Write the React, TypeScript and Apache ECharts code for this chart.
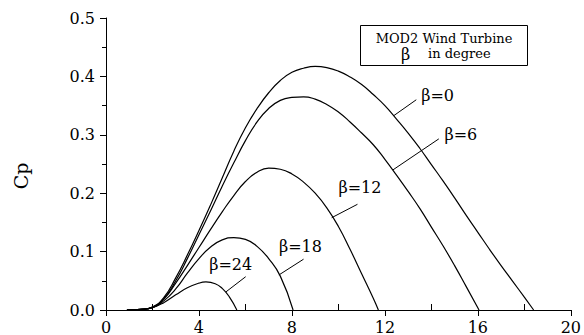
import React, { useEffect, useRef } from "react";
import * as echarts from "echarts";

// Power coefficient Cp against tip speed ratio for several pitch angles (β in degrees)
const beta0: [number, number][] = [
  [0.9, 0], [1.5, 0.001], [2.0, 0.005], [2.5, 0.022], [3.0, 0.055], [3.5, 0.094],
  [4.0, 0.136], [4.5, 0.180], [5.0, 0.226], [5.5, 0.272], [6.0, 0.312], [6.5, 0.345],
  [7.0, 0.372], [7.5, 0.393], [8.0, 0.407], [8.5, 0.414], [9.0, 0.417], [9.5, 0.415],
  [10.0, 0.409], [10.5, 0.399], [11.0, 0.386], [11.5, 0.369], [12.0, 0.350], [12.5, 0.327],
  [13.0, 0.303], [13.5, 0.277], [14.0, 0.249], [14.5, 0.221], [15.0, 0.192], [15.5, 0.162],
  [16.0, 0.133], [16.5, 0.104], [17.0, 0.076], [17.5, 0.049], [18.0, 0.022], [18.4, 0],
];
const beta6: [number, number][] = [
  [0.9, 0], [1.5, 0.001], [2.0, 0.005], [2.5, 0.020], [3.0, 0.050], [3.5, 0.088],
  [4.0, 0.129], [4.5, 0.170], [5.0, 0.212], [5.5, 0.252], [6.0, 0.290], [6.5, 0.322],
  [7.0, 0.345], [7.5, 0.359], [8.0, 0.364], [8.5, 0.365], [9.0, 0.361], [9.5, 0.352],
  [10.0, 0.339], [10.5, 0.322], [11.0, 0.303], [11.5, 0.283], [12.0, 0.258], [12.5, 0.231],
  [13.0, 0.203], [13.5, 0.174], [14.0, 0.142], [14.5, 0.110], [15.0, 0.076], [15.5, 0.040],
  [16.05, 0],
];
const beta12: [number, number][] = [
  [0.9, 0], [1.5, 0.001], [2.0, 0.004], [2.5, 0.019], [3.0, 0.046], [3.5, 0.076],
  [4.0, 0.107], [4.5, 0.138], [5.0, 0.168], [5.5, 0.196], [6.0, 0.220], [6.5, 0.236],
  [7.0, 0.243], [7.5, 0.241], [8.0, 0.233], [8.5, 0.219], [9.0, 0.200], [9.5, 0.175],
  [10.0, 0.143], [10.5, 0.104], [11.0, 0.062], [11.5, 0.020], [11.72, 0],
];
const beta18: [number, number][] = [
  [0.9, 0], [1.5, 0.001], [2.0, 0.004], [2.5, 0.016], [3.0, 0.036], [3.5, 0.063],
  [4.0, 0.088], [4.5, 0.108], [5.0, 0.120], [5.5, 0.124], [6.0, 0.121], [6.5, 0.109],
  [7.0, 0.088], [7.5, 0.058], [8.05, 0],
];
const beta24: [number, number][] = [
  [0.9, 0], [1.5, 0.001], [2.0, 0.004], [2.5, 0.013], [3.0, 0.026], [3.5, 0.038],
  [4.0, 0.046], [4.3, 0.048], [4.7, 0.045], [5.0, 0.037], [5.3, 0.023], [5.63, 0],
];

const curveNames = ["β=0", "β=6", "β=12", "β=18", "β=24"];
const curveData = [beta0, beta6, beta12, beta18, beta24];

// leader line from each curve to its label, and the label anchor (data units)
const leaderFrom: [number, number][] = [[12.39, 0.333], [12.35, 0.240], [9.71, 0.158], [7.44, 0.060], [5.16, 0.031]];
const leaderTo: [number, number][] = [[13.35, 0.360], [14.32, 0.293], [10.82, 0.181], [8.50, 0.087], [6.01, 0.057]];
const labelAt: [number, number][] = [[13.56, 0.368], [14.56, 0.300], [10.0, 0.2095], [7.44, 0.109], [4.44, 0.078]];

const xMinorTicks = [2, 6, 10, 14, 18];

const FONT = "DejaVu Serif";

export default function App() {
  const ref = useRef<HTMLDivElement>(null);

  useEffect(() => {
    if (!ref.current) return;
    const chart = echarts.init(ref.current, undefined, { renderer: "svg" });

    const series = curveData.map((data, i) => ({
      type: "line",
      name: curveNames[i],
      data,
      smooth: 0.5,
      showSymbol: false,
      lineStyle: { color: "#000", width: 1.2 },
      markLine: {
        silent: true,
        symbol: ["none", "none"],
        label: { show: false },
        lineStyle: { color: "#000", width: 1, type: "solid" },
        data: [[{ coord: leaderFrom[i] }, { coord: leaderTo[i] }]],
      },
      markPoint: {
        silent: true,
        symbol: "circle",
        symbolSize: 0,
        label: {
          show: true,
          position: "right",
          distance: 0,
          formatter: curveNames[i],
          fontFamily: FONT,
          fontSize: 16,
          color: "#000",
        },
        data: [{ coord: labelAt[i] }],
      },
    }));

    chart.setOption({
      animation: false,
      backgroundColor: "#fff",
      grid: { left: 106, right: 10, top: 18, bottom: 23 },
      xAxis: [
        {
          type: "value",
          min: 0,
          max: 20,
          interval: 4,
          splitLine: { show: false },
          axisLine: { lineStyle: { color: "#000", width: 1 } },
          axisTick: { show: true, inside: false, length: 6, lineStyle: { color: "#000" } },
          axisLabel: { color: "#000", fontFamily: FONT, fontSize: 16, margin: 9 },
        },
        {
          type: "value",
          min: 0,
          max: 20,
          position: "bottom",
          splitLine: { show: false },
          axisLine: { show: false },
          axisLabel: { show: false },
          axisTick: {
            show: true,
            inside: true,
            length: 6,
            customValues: xMinorTicks,
            lineStyle: { color: "#000" },
          },
        },
      ],
      yAxis: {
        type: "value",
        min: 0,
        max: 0.5,
        interval: 0.1,
        splitLine: { show: false },
        axisLine: { show: true, lineStyle: { color: "#000", width: 1 } },
        axisTick: { show: true, inside: false, length: 6, lineStyle: { color: "#000" } },
        minorTick: { show: true, splitNumber: 2, length: 4, lineStyle: { color: "#000" } },
        axisLabel: {
          color: "#000",
          fontFamily: FONT,
          fontSize: 16,
          margin: 11,
          formatter: (v: number) => v.toFixed(1),
        },
      },
      series,
      graphic: [
        {
          type: "text",
          x: 21,
          y: 176,
          rotation: Math.PI / 2,
          style: {
            text: "Cp",
            fontFamily: FONT,
            fontSize: 19,
            fill: "#000",
            align: "center",
            verticalAlign: "middle",
          },
        },
        {
          type: "rect",
          shape: { x: 360.5, y: 25.5, width: 167, height: 40 },
          style: { fill: "#fff", stroke: "#000", lineWidth: 1 },
        },
        {
          type: "text",
          x: 444,
          y: 38,
          style: {
            text: "MOD2 Wind Turbine",
            fontFamily: FONT,
            fontSize: 13,
            fill: "#000",
            align: "center",
            verticalAlign: "middle",
          },
        },
        {
          type: "text",
          x: 401,
          y: 54,
          style: {
            text: "β",
            fontFamily: FONT,
            fontSize: 16,
            fill: "#000",
            align: "left",
            verticalAlign: "middle",
          },
        },
        {
          type: "text",
          x: 428,
          y: 53,
          style: {
            text: "in degree",
            fontFamily: FONT,
            fontSize: 13,
            fill: "#000",
            align: "left",
            verticalAlign: "middle",
          },
        },
      ],
    });

    return () => chart.dispose();
  }, []);

  return (
    <div
      ref={ref}
      style={{ position: "fixed", left: 0, top: 0, width: 584, height: 335 }}
    />
  );
}
